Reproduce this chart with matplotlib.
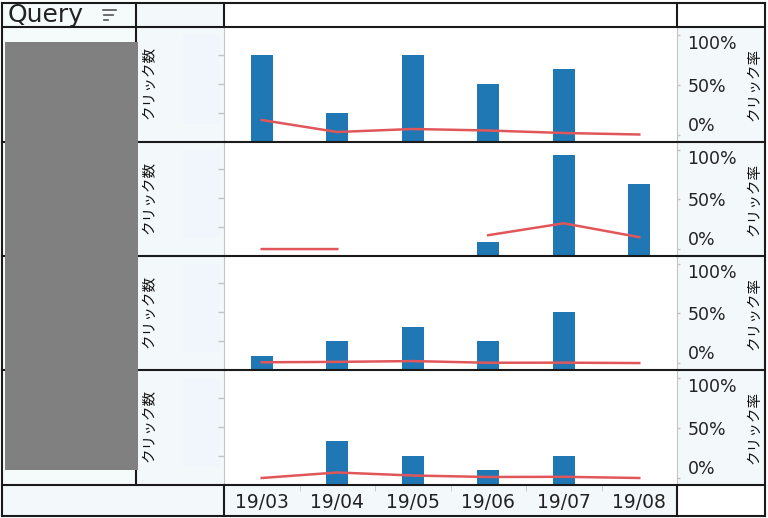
import numpy as np
import matplotlib
matplotlib.use("Agg")
import matplotlib.pyplot as plt
from matplotlib.lines import Line2D
from matplotlib.patches import Rectangle
import matplotlib.transforms as mtransforms

# data
months = ['19/03', '19/04', '19/05', '19/06', '19/07', '19/08']
clicks_q1 = [6, 2, 6, 4, 5, 0]
rate_q1 = [0.15, 0.03, 0.06, 0.045, 0.02, 0.005]
clicks_q2 = [0, 0, np.nan, 1, 7, 5]
rate_q2 = [0.0, 0.0, np.nan, 0.14, 0.26, 0.12]
clicks_q3 = [1, 2, 3, 2, 4, 0]
rate_q3 = [0.008, 0.012, 0.02, 0.003, 0.004, 0.0]
clicks_q4 = [0, 3, 2, 1, 2, 0]
rate_q4 = [0.0, 0.055, 0.025, 0.01, 0.012, 0.0]

clicks = [clicks_q1, clicks_q2, clicks_q3, clicks_q4]
rates = [rate_q1, rate_q2, rate_q3, rate_q4]
click_ticks = [2, 4, 6]
rate_ticks = [0, 0.5, 1.0]
rate_labels = ['0%', '50%', '100%']

W, H = 768, 518
JP = ['Noto Sans CJK JP', 'DejaVu Sans']
BLUE = '#1f77b4'
RED = '#e15759'
LIGHT = '#f3f8fa'
GRID = '#c4c4c4'

fig = plt.figure(figsize=(W / 100, H / 100), dpi=100)
fig.patch.set_facecolor('white')


def px_axes(x0, y0, x1, y1):
    """Add axes using pixel coordinates measured from the top-left."""
    ax = fig.add_axes([x0 / W, 1 - y1 / H, (x1 - x0) / W, (y1 - y0) / H])
    ax.patch.set_alpha(0)
    return ax


def px_rect(x0, y0, x1, y1, color, z=-2):
    fig.patches.append(Rectangle((x0 / W, 1 - y1 / H), (x1 - x0) / W, (y1 - y0) / H,
                                 transform=fig.transFigure, facecolor=color,
                                 edgecolor='none', zorder=z))


def px_line(x0, y0, x1, y1, color='#1a1a1a', lw=1.5, z=5):
    fig.add_artist(Line2D([x0 / W, x1 / W], [1 - y0 / H, 1 - y1 / H],
                          transform=fig.transFigure, color=color, lw=lw, zorder=z))


row_edges = [27, 142, 256, 370, 485]
PX0, PX1 = 224, 677

# cell backgrounds
px_rect(2, 3, 136, 485, '#f5fafb')
px_rect(136, 3, 224, 485, LIGHT)
px_rect(677, 27, 765, 485, LIGHT)
px_rect(2, 485, 224, 516, LIGHT)
px_rect(224, 485, 677, 516, LIGHT)

for r in range(4):
    top, bot = row_edges[r], row_edges[r + 1]
    px_rect(183, top + 8, 220, bot - 18, '#f0f6fb', z=-1)

    ax = px_axes(PX0, top, PX1, bot)
    x = np.arange(len(months))
    ax.bar(x, clicks[r], width=0.29, color=BLUE, zorder=2)
    ax.set_xlim(-0.5, len(months) - 0.5)
    ax.set_ylim(0, 7.9)
    ax.set_xticks([])
    ax.set_yticks(click_ticks)
    ax.set_yticklabels([])
    ax.tick_params(axis='y', direction='out', length=4, color=GRID, width=1)
    for s in ['top', 'bottom', 'right']:
        ax.spines[s].set_visible(False)
    ax.spines['left'].set_color(GRID)

    ax2 = ax.twinx()
    ax2.plot(x, rates[r], color=RED, lw=1.8, zorder=3)
    ax2.set_ylim(-0.07, 1.08)
    ax2.set_yticks(rate_ticks)
    ax2.set_yticklabels(rate_labels, fontsize=12.5, color='#222222')
    ax2.tick_params(axis='y', direction='out', length=2.5, color=GRID, width=1, pad=5)
    tl = ax2.get_yticklabels()
    tl[0].set_va('bottom')
    tl[2].set_va('top')
    for s in ['top', 'bottom', 'left']:
        ax2.spines[s].set_visible(False)
    ax2.spines['right'].set_color(GRID)

    ymid = 1 - (top + bot) / 2 / H
    fig.text(149 / W, ymid + 2 / H, 'クリック数', rotation=90, ha='center', va='center',
             fontsize=10.5, family=JP, color='#111111')
    fig.text(754 / W, ymid, 'クリック率', rotation=90, ha='center', va='center',
             fontsize=10.5, family=JP, color='#111111')

# footer axis with month labels
fax = px_axes(PX0, 485, PX1, 516)
fax.set_xlim(-0.5, len(months) - 0.5)
fax.set_ylim(0, 1)
fax.set_yticks([])
fax.set_xticks([])
fax.set_xticks(np.arange(len(months) - 1) + 0.5, minor=True)
fax.xaxis.set_ticks_position('top')
fax.tick_params(axis='x', which='minor', direction='in', length=4, color=GRID, labeltop=False)
for s in fax.spines.values():
    s.set_visible(False)
trans = mtransforms.blended_transform_factory(fax.transData, fax.transAxes)
for i, m in enumerate(months):
    fax.text(i, 0.42, m, transform=trans, ha='center', va='center', fontsize=13.5,
             color='#222222')

# header
fig.text(8 / W, 1 - 22 / H, 'Query', fontsize=18, color='#222222', va='baseline')
for y, xa, xb in [(10, 103, 116), (15, 104, 113), (20, 104, 108)]:
    px_line(xa, y, xb, y, color='#555555', lw=1.2)

# table lines
for y in [3] + row_edges + [516]:
    px_line(2, y, 765, y)
px_line(2, 3, 2, 516)
px_line(765, 3, 765, 516)
px_line(136, 3, 136, 485)
px_line(224, 3, 224, 27)
px_line(677, 3, 677, 27)
px_line(224, 485, 224, 516)
px_line(677, 485, 677, 516)

# redacted block
px_rect(5, 42, 138, 470, '#808080', z=10)

fig.savefig('out.png', dpi=100)
